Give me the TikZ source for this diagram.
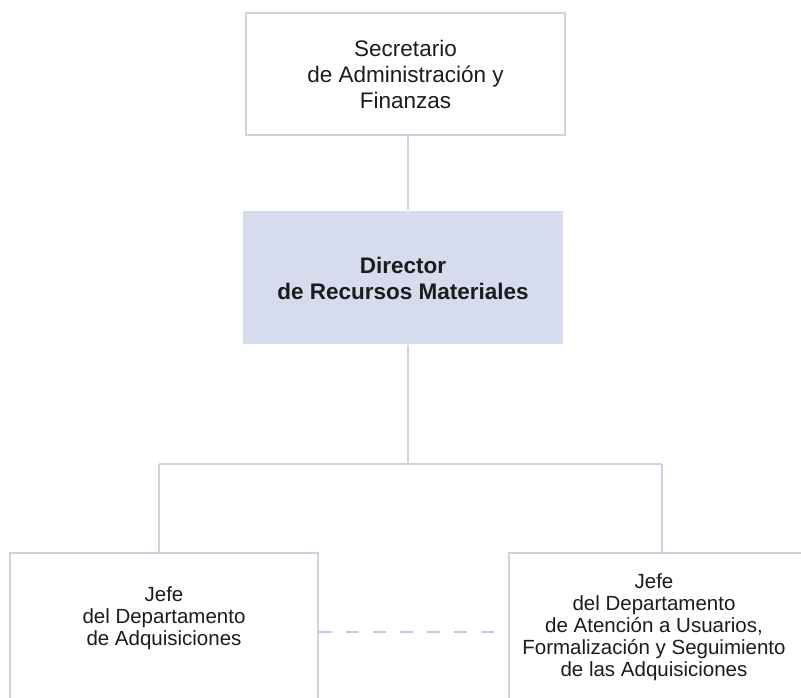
\documentclass[tikz,border=0pt]{standalone}
\usepackage{fontspec}
\setmainfont{Liberation Sans}
\definecolor{linec}{RGB}{206,211,226}
\definecolor{midfill}{RGB}{214,219,237}
\definecolor{dashc}{RGB}{190,203,230}
\definecolor{txtc}{RGB}{28,28,28}
\begin{document}
\begin{tikzpicture}[x=1pt,y=-1pt,
  box/.style={draw=linec, line width=2pt, rectangle, inner sep=0pt},
  bigtxt/.style={align=center, text=txtc, inner sep=0pt, font=\fontsize{22.5}{26}\selectfont},
  smalltxt/.style={align=center, text=txtc, inner sep=0pt, font=\fontsize{20.5}{22}\selectfont},
  conn/.style={draw=linec, line width=2pt},
  dashline/.style={draw=dashc, line width=2pt, dash pattern=on 13pt off 14pt}]
\useasboundingbox (0,0) rectangle (801,698);
\clip (0,0) rectangle (801,698);
\fill[white] (0,0) rectangle (801,698);
% boxes
\node[box, minimum width=319pt, minimum height=122pt] (sec) at (405.5,74) {};
\node[bigtxt] (sect) at (405.5,74) {Secretario\\de Administración y\\Finanzas};
\node[box, draw=none, fill=midfill, minimum width=320pt, minimum height=133pt] (dir) at (403,277.5) {};
\node[bigtxt, font=\fontsize{22.5}{26}\selectfont\bfseries] (dirt) at (403,278) {Director\\de Recursos Materiales};
\node[box, minimum width=308pt, minimum height=170pt] (adq) at (164,638) {};
\node[smalltxt] (adqt) at (164,618) {Jefe\\del Departamento\\de Adquisiciones};
\node[box, minimum width=330pt, minimum height=170pt] (aten) at (674,638) {};
\node[smalltxt] (atent) at (654,627) {Jefe\\del Departamento\\de Atención a Usuarios,\\Formalización y Seguimiento\\de las Adquisiciones};
% connectors
\coordinate (jm) at (408,464);
\coordinate (jl) at (159,464);
\coordinate (jr) at (662,464);
\coordinate (dy) at (0,632);
\draw[conn] (sec.south -| jm) -- (dir.north -| jm);
\draw[conn] (dir.south -| jm) -- (jm);
\draw[conn] (jl) -- (jr);
\draw[conn] (jl) -- (jl |- adq.north);
\draw[conn] (jr) -- (jr |- aten.north);
\draw[dashline] (adq.east |- dy) -- (aten.west |- dy);
\end{tikzpicture}
\end{document}
